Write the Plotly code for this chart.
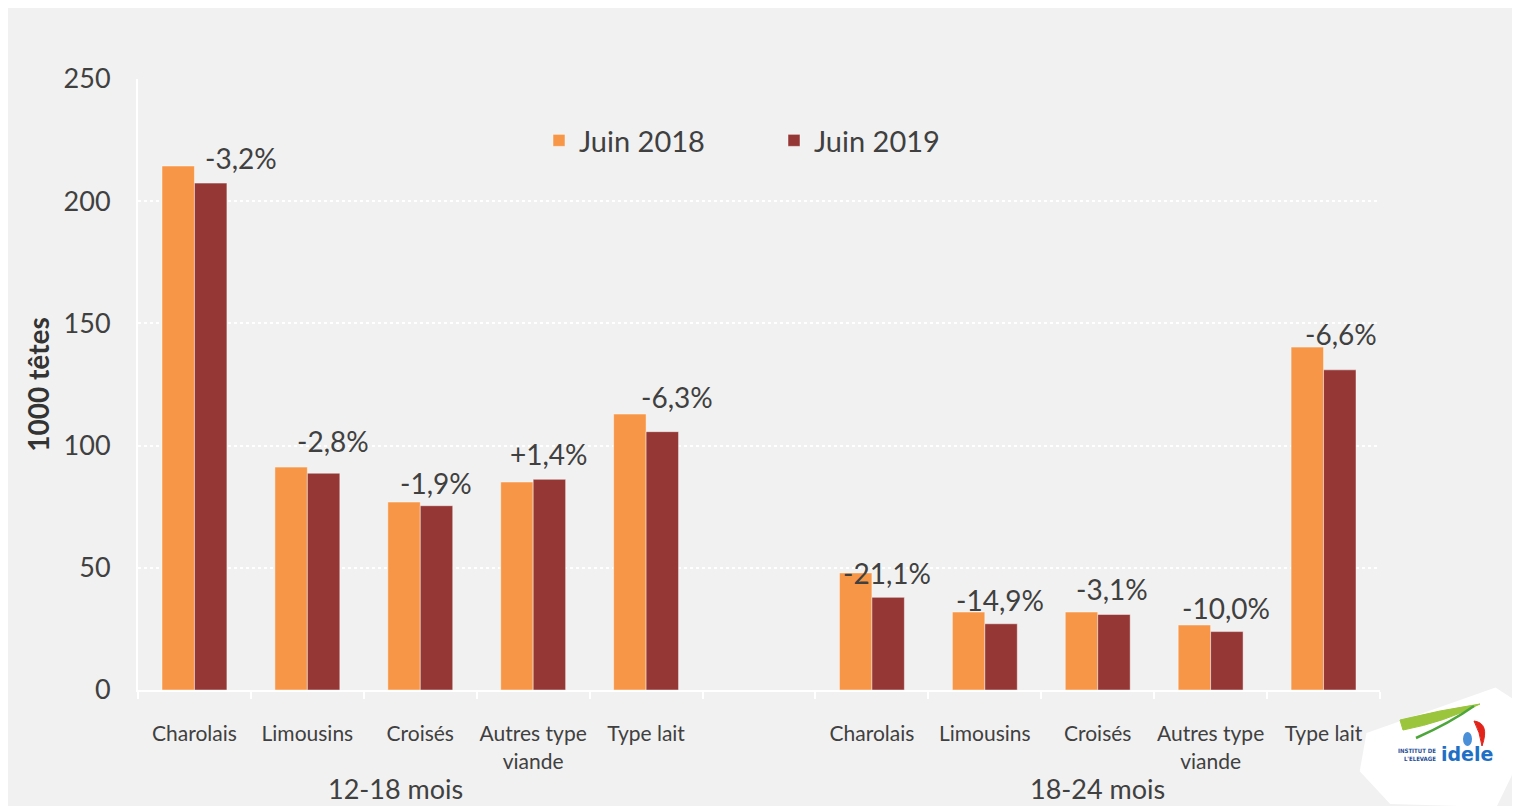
import plotly.graph_objects as go

# ---- data ----
categories = ["Charolais", "Limousins", "Croisés", "Autres type<br>viande", "Type lait"]
groups = ["12-18 mois", "18-24 mois"]
juin2018_a = [214.4, 91.2, 76.9, 85.1, 112.9]
juin2019_a = [207.4, 88.7, 75.4, 86.2, 105.7]
juin2018_b = [47.9, 31.9, 31.9, 26.6, 140.3]
juin2019_b = [37.9, 27.1, 30.9, 23.9, 131.0]
labels_a = ["-3,2%", "-2,8%", "-1,9%", "+1,4%", "-6,3%"]
labels_b = ["-21,1%", "-14,9%", "-3,1%", "-10,0%", "-6,6%"]
y_ticks = [0, 50, 100, 150, 200, 250]

# label placement tweaks (pixels), as in the original slide
label_dx = [47, 26, 16, 16, 31, 15, 15, 14, 15, 17]
label_dy = [25, 32, 23, 25, 35, 24, 24, 25, 24, 36]

# positions: group A at 0..4, empty slot at 5, group B at 6..10
pos_a = list(range(len(categories)))
pos_b = [p + len(categories) + 1 for p in pos_a]
positions = pos_a + pos_b
v2018 = juin2018_a + juin2018_b
v2019 = juin2019_a + juin2019_b
labels = labels_a + labels_b

FONT = "Lato"
TXT = "#404040"
ORANGE = "#F79646"
DARKRED = "#953735"
BG = "#F1F1F1"

fig = go.Figure()
fig.add_trace(go.Bar(x=positions, y=v2018, name="Juin 2018",
                     marker=dict(color=ORANGE, line=dict(color="rgba(255,255,255,0.45)", width=1))))
fig.add_trace(go.Bar(x=positions, y=v2019, name="Juin 2019",
                     marker=dict(color=DARKRED, line=dict(color="rgba(255,255,255,0.45)", width=1))))

# percentage labels above the 2019 bars
for p, v, t, dx, dy in zip(positions, v2019, labels, label_dx, label_dy):
    fig.add_annotation(x=p, y=v, text=t, showarrow=False, xref="x", yref="y",
                       xshift=dx, yshift=dy, yanchor="middle",
                       font=dict(family=FONT, size=28, color=TXT))

# group labels
for gpos, g, sh in [(pos_a, groups[0], -25), (pos_b, groups[1], 0)]:
    fig.add_annotation(x=sum(gpos) / len(gpos), y=0, xref="x", yref="paper", text=g,
                       showarrow=False, yshift=-98, yanchor="middle", xshift=sh,
                       font=dict(family=FONT, size=27, color=TXT))

# ---- layout geometry (page has an 8px body margin) ----
OFF = 8
W, H = 1512, 798
L, T = 130, 71
R, B = W - 1372, H - 682
pw, ph = W - L - R, H - T - B


def px(x):  # screen x -> paper
    return (x - OFF - L) / pw


def py(y):  # screen y -> paper
    return (H - B - (y - OFF)) / ph


shapes = []
logo_pts = [(1370, 736), (1495, 692), (1512, 703), (1510, 770), (1494, 803), (1392, 800), (1364, 770)]
path = "M " + " L ".join(f"{px(x)},{py(y)}" for x, y in logo_pts) + " Z"
shapes.append(dict(type="path", xref="paper", yref="paper", path=path,
                   fillcolor="white", line=dict(color="white", width=8)))
swoosh = f"M {px(1400)},{py(720)} Q {px(1440)},{py(710)} {px(1480)},{py(704)} Q {px(1445)},{py(722)} {px(1403)},{py(730)} Z"
shapes.append(dict(type="path", xref="paper", yref="paper", path=swoosh,
                   fillcolor="#9BC53D", line=dict(color="#9BC53D", width=1)))
swoosh2 = f"M {px(1416)},{py(738)} Q {px(1450)},{py(723)} {px(1474)},{py(706)}"
shapes.append(dict(type="path", xref="paper", yref="paper", path=swoosh2,
                   line=dict(color="#4DA63A", width=2.5)))
shapes.append(dict(type="path", xref="paper", yref="paper",
                   path=f"M {px(1474)},{py(721)} Q {px(1490)},{py(723)} {px(1482)},{py(746)} Q {px(1480)},{py(732)} {px(1474)},{py(721)} Z",
                   fillcolor="#E2231A", line=dict(color="#E2231A", width=1)))
shapes.append(dict(type="circle", xref="paper", yref="paper",
                   x0=px(1463), x1=px(1472), y0=py(746), y1=py(732),
                   fillcolor="#4A90D9", line=dict(width=0)))
fig.add_annotation(x=px(1438), y=py(754), xref="paper", yref="paper", showarrow=False,
                   text="<b>INSTITUT DE<br>L'ELEVAGE</b>", align="right", xanchor="right",
                   yanchor="middle",
                   font=dict(family="DejaVu Sans Condensed", size=6, color="#1F4E96"))
fig.add_annotation(x=px(1439), y=py(754), xref="paper", yref="paper", showarrow=False,
                   text="<b>idele</b>", xanchor="left", yanchor="middle",
                   font=dict(family="DejaVu Sans", size=19, color="#1F6FC5"))

fig.update_layout(
    width=W, height=H,
    margin=dict(l=L, r=R, t=T, b=B),
    paper_bgcolor=BG, plot_bgcolor=BG,
    barmode="group", bargap=0.425, bargroupgap=0,
    font=dict(family=FONT, color=TXT),
    shapes=shapes,
    showlegend=True,
    legend=dict(orientation="h", x=px(539), y=py(115), xanchor="left", yanchor="top",
                bgcolor="rgba(0,0,0,0)", font=dict(family=FONT, size=29, color=TXT),
                entrywidth=190, entrywidthmode="pixels", traceorder="normal"),
    xaxis=dict(range=[-0.5, positions[-1] + 0.5], tickmode="array", tickvals=positions,
               ticktext=categories * 2, ticks="", showgrid=False, zeroline=False,
               showline=True, linecolor="white", linewidth=2,
               tickfont=dict(family=FONT, size=21, color=TXT), ticklabelstandoff=24,
               minor=dict(tickmode="array", tickvals=[p - 0.5 for p in range(positions[-1] + 2)],
                          ticks="outside", ticklen=7, tickcolor="white", tickwidth=2, showgrid=False)),
    yaxis=dict(range=[0, 250], tickvals=y_ticks, showgrid=True, gridcolor="white",
               griddash="dot", gridwidth=1.5, zeroline=False, showline=True,
               linecolor="white", linewidth=2, ticks="", ticklabelstandoff=20,
               tickfont=dict(family=FONT, size=27, color=TXT),
               title=dict(text="<b>1000 têtes</b>", standoff=6,
                          font=dict(family=FONT, size=28, color="#333333"))),
)

fig.write_html("out.html")
